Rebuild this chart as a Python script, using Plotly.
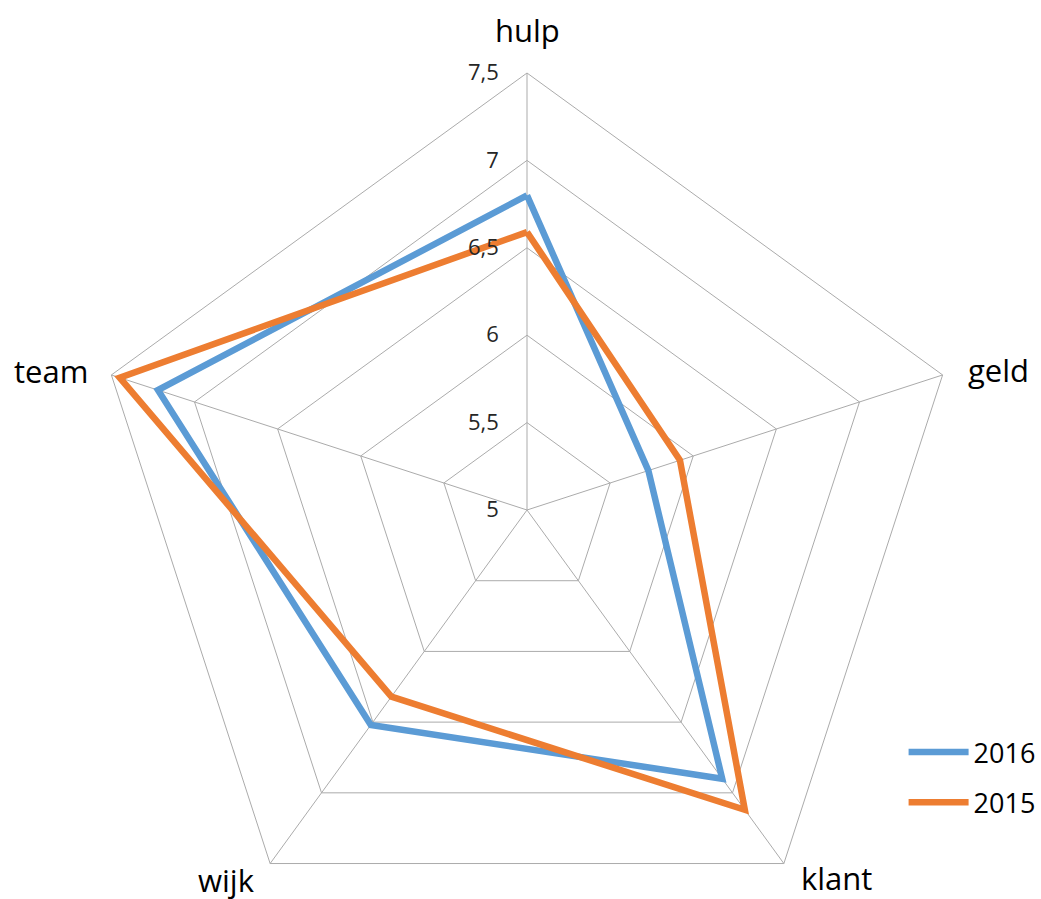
import plotly.graph_objects as go

# Survey scores per theme
categories = ["hulp", "geld", "klant", "wijk", "team"]
scores_2016 = [6.80, 5.73, 6.90, 6.52, 7.22]
scores_2015 = [6.59, 5.92, 7.12, 6.32, 7.45]

tick_values = [5, 5.5, 6, 6.5, 7, 7.5]
tick_labels = ["5", "5,5", "6", "6,5", "7", "7,5"]

FONT = "Open Sans, DejaVu Sans, sans-serif"
GRID = "#ABABAB"

W, H = 1041, 960
cx, cy, rad = 527, 510, 437

# where each category name sits (pixel position, anchors)
label_spots = {
    "hulp": (527, 30, "center"),
    "geld": (966, 370, "left"),
    "klant": (836, 878, "center"),
    "wijk": (226, 880, "center"),
    "team": (90, 371, "right"),
}


def closed(vals):
    return list(vals) + [vals[0]]


fig = go.Figure()
fig.add_trace(go.Scatterpolar(
    r=closed(scores_2016), theta=closed(categories), mode="lines",
    name="2016", legendgroup="a",
    line=dict(color="#5B9BD5", width=6.5),
))
fig.add_trace(go.Scatterpolar(
    r=closed(scores_2015), theta=closed(categories), mode="lines",
    name="2015", legendgroup="b",
    line=dict(color="#ED7D31", width=6.5),
))

for name in categories:
    px, py, anchor = label_spots[name]
    fig.add_annotation(
        text=name, xref="paper", yref="paper",
        x=px / W, y=1 - py / H, xanchor=anchor, yanchor="middle",
        showarrow=False, font=dict(size=31, color="#000000", family=FONT),
    )

fig.update_layout(
    width=W, height=H,
    margin=dict(l=0, r=0, t=0, b=0),
    paper_bgcolor="white",
    plot_bgcolor="white",
    font=dict(family=FONT, color="#000000"),
    showlegend=True,
    legend=dict(
        x=0.868, y=1 - 728 / H, xanchor="left", yanchor="top",
        font=dict(size=27, color="#000000", family=FONT),
        tracegroupgap=12, traceorder="grouped",
        itemwidth=60,
        bgcolor="rgba(0,0,0,0)",
    ),
    polar=dict(
        domain=dict(x=[(cx - rad) / W, (cx + rad) / W],
                    y=[1 - (cy + rad) / H, 1 - (cy - rad) / H]),
        bgcolor="white",
        gridshape="linear",
        angularaxis=dict(
            rotation=90, direction="clockwise",
            categoryorder="array", categoryarray=categories,
            showline=True, linecolor=GRID, linewidth=1,
            showgrid=True, gridcolor=GRID, gridwidth=1,
            ticks="", showticklabels=False,
        ),
        radialaxis=dict(
            range=[5, 7.5], angle=90, side="counterclockwise",
            tickvals=tick_values, ticktext=tick_labels,
            showline=False,
            ticks="outside", ticklen=20, tickcolor="rgba(0,0,0,0)",
            showgrid=True, gridcolor=GRID, gridwidth=1,
            tickfont=dict(size=22, color="#262626", family=FONT),
            tickangle=90,
        ),
    ),
)

fig.write_html("out.html", post_script="document.body.style.overflow='hidden';document.body.style.margin='0';")
